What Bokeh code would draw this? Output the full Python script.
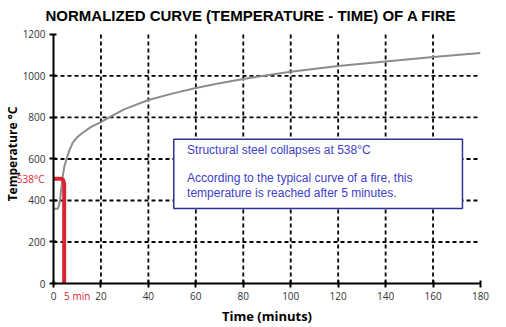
from bokeh.plotting import figure
from bokeh.models import Range1d, BoxAnnotation, Label, FixedTicker, LinearAxis
from bokeh.embed import file_html
from bokeh.resources import INLINE

# ---- data ----
time_min = [0, 1.8, 2.3, 2.8, 3.3, 3.9, 4.6, 5.5, 6.5, 8, 10, 12, 16, 20, 25, 30,
            40, 50, 60, 70, 80, 90, 100, 120, 140, 160, 180]
temp_c = [360, 360, 375, 405, 460, 516, 565, 600, 635, 676, 705, 724, 756, 778, 810, 840,
          884, 915, 942, 965, 985, 1003, 1020, 1048, 1070, 1091, 1111]

collapse_t = [0, 3.4, 4.1, 4.5, 4.5]
collapse_T = [505, 505, 498, 480, 0]

x_ticks = [0, 20, 40, 60, 80, 100, 120, 140, 160, 180]
y_ticks = [0, 200, 400, 600, 800, 1000, 1200]
grid_x = [20, 40, 60, 80, 100, 120, 140, 160]
grid_y = [200, 400, 600, 800, 1000]

red_x_tick = 10
red_x_label = "5 min"
red_y_tick = 505
red_y_label = "538°C"

title_text = "NORMALIZED CURVE (TEMPERATURE - TIME) OF A FIRE"
note_lines = ["Structural steel collapses at 538°C",
              "According to the typical curve of a fire, this",
              "temperature is reached after 5 minutes."]

RED = "#d9262e"
Y_MAX = 1200

p = figure(width=506, height=327, output_backend="svg", toolbar_location=None,
           x_range=Range1d(0, 180), y_range=Range1d(0, 1248),
           min_border_left=52, min_border_right=26, min_border_top=24, min_border_bottom=43)
p.outline_line_color = None
p.background_fill_color = "white"
p.border_fill_color = "white"
p.xgrid.visible = False
p.ygrid.visible = False

p.title.text = title_text
p.title.align = "left"
p.title.offset = -8
p.title.text_font = "Liberation Sans"
p.title.text_font_style = "bold"
p.title.text_font_size = "15px"
p.title.text_color = "black"
p.title.standoff = 2

# dashed grid
grid_kw = dict(line_color="black", line_width=1.8, line_dash="4 3")
p.segment(x0=grid_x, y0=[0] * len(grid_x), x1=grid_x, y1=[Y_MAX] * len(grid_x), **grid_kw)
p.segment(x0=[0] * len(grid_y), y0=grid_y, x1=[180] * len(grid_y), y1=grid_y, **grid_kw)

# fire curve
p.line(time_min, temp_c, line_color="#8c8c8c", line_width=2)
# collapse marker
p.line(collapse_t, collapse_T, line_color=RED, line_width=4, line_join="round")

# main axes
p.xaxis.ticker = FixedTicker(ticks=x_ticks)
p.yaxis.ticker = FixedTicker(ticks=y_ticks)
p.yaxis.bounds = (0, Y_MAX)
for ax in (p.xaxis[0], p.yaxis[0]):
    ax.axis_line_width = 2
    ax.axis_line_color = "black"
    ax.major_tick_line_width = 2
    ax.major_tick_line_color = "black"
    ax.major_tick_in = 3
    ax.major_tick_out = 4
    ax.minor_tick_line_color = None
    ax.major_label_text_font = "Open Sans"
    ax.major_label_text_font_size = "10px"
    ax.major_label_text_color = "#333333"
    ax.major_label_standoff = 4

# red marker axes (stacked outside the main ones, pulled back with negative standoff)
xr = LinearAxis(ticker=FixedTicker(ticks=[red_x_tick]),
                major_label_overrides={red_x_tick: red_x_label})
yr = LinearAxis(ticker=FixedTicker(ticks=[red_y_tick]),
                major_label_overrides={red_y_tick: red_y_label})
for ax in (xr, yr):
    ax.axis_line_color = None
    ax.major_tick_line_color = None
    ax.minor_tick_line_color = None
    ax.major_tick_in = 0
    ax.major_tick_out = 0
    ax.major_label_text_font = "Open Sans"
    ax.major_label_text_font_size = "10px"
    ax.major_label_text_color = RED
    ax.axis_label_text_font = "Open Sans"
    ax.axis_label_text_font_style = "bold"
    ax.axis_label_text_color = "black"
xr.major_label_standoff = -14
yr.major_label_standoff = -25
xr.axis_label = "Time (minuts)"
xr.axis_label_text_font_size = "13px"
xr.axis_label_standoff = 1
yr.axis_label = "Temperature °C"
yr.axis_label_text_font_size = "12px"
yr.axis_label_standoff = -7
p.add_layout(xr, "below")
p.add_layout(yr, "left")

# note box
p.add_layout(BoxAnnotation(left=50.7, right=172.4, bottom=361, top=695,
                           fill_color="white", fill_alpha=1.0,
                           line_color="#2e3192", line_alpha=1.0, line_width=1.5))
for txt, yy in zip(note_lines, [644, 509, 436]):
    p.add_layout(Label(x=56.3, y=yy, text=txt, text_align="left", text_baseline="middle",
                       text_font="Liberation Sans", text_font_size="12px", text_color="#4040c8"))

open("out.html", "w").write(file_html(p, INLINE))
